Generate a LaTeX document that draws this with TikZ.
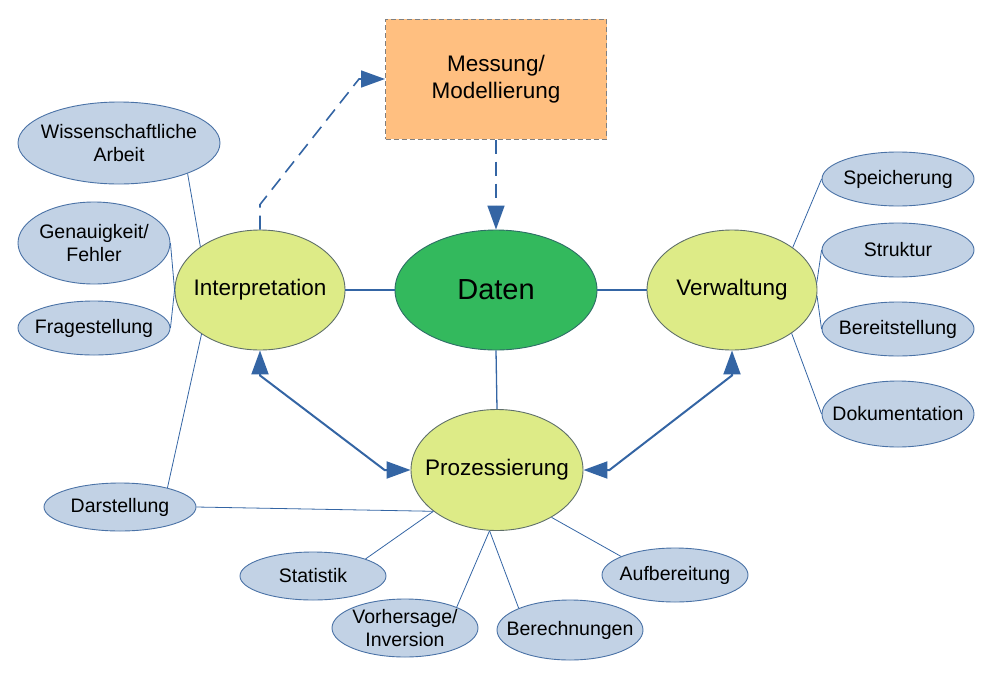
\documentclass[tikz,border=0pt]{standalone}
\usepackage{fontspec}
\setmainfont{Liberation Sans}
\usetikzlibrary{shapes.geometric,arrows.meta}
\definecolor{conn}{HTML}{3465A4}
\definecolor{leaffill}{HTML}{C2D2E5}
\definecolor{leafborder}{HTML}{4A72A6}
\definecolor{mainfill}{HTML}{DDEB87}
\definecolor{mainborder}{HTML}{5F6F6A}
\definecolor{datenfill}{HTML}{33B95D}
\definecolor{datenborder}{HTML}{2E6E66}
\definecolor{boxfill}{HTML}{FFBF80}
\definecolor{boxborder}{HTML}{808080}
\begin{document}
\begin{tikzpicture}[x=1pt,y=-1pt,
  leaf/.style={ellipse, draw=leafborder, fill=leaffill, line width=0.9pt, inner xsep=-50pt, inner ysep=-10pt, align=center, font=\fontsize{19.5}{23}\selectfont},
  mainell/.style={ellipse, draw=mainborder, fill=mainfill, line width=0.9pt, inner xsep=-50pt, inner ysep=-10pt, align=center, minimum width=170pt, minimum height=120pt, font=\fontsize{22.5}{27}\selectfont},
  datell/.style={ellipse, draw=datenborder, fill=datenfill, line width=0.9pt, inner sep=0pt, minimum width=202pt, minimum height=120pt, font=\fontsize{29}{33}\selectfont},
  boxnode/.style={rectangle, draw=boxborder, fill=boxfill, line width=1pt, dash pattern=on 5pt off 3pt, inner sep=0pt, align=center, minimum width=221pt, minimum height=120pt, font=\fontsize{22.5}{27}\selectfont},
  thinconn/.style={draw=conn, line width=0.8pt},
  midconn/.style={draw=conn, line width=1.3pt},
  thickconn/.style={draw=conn, line width=2pt},
  dashconn/.style={draw=conn, line width=1.6pt, dash pattern=on 14pt off 8pt},
  tip/.tip={Triangle[length=24pt,width=17pt]}
]
\useasboundingbox (0,0) rectangle (992,699);

% main nodes
\node[boxnode] (mess) at (496,79) {Messung/\\Modellierung};
\node[datell] (daten) at (496,290) {Daten};
\node[mainell] (interp) at (260,290) {Interpretation};
\node[mainell] (verw) at (732,290) {Verwaltung};
\node[mainell, minimum width=172pt, minimum height=121pt] (proz) at (497,470) {Prozessierung};

% leaves
\node[leaf, minimum width=202pt, minimum height=82pt] (wiss) at (119,143) {Wissenschaftliche\\Arbeit};
\node[leaf, minimum width=152pt, minimum height=82pt] (gen) at (94,243) {Genauigkeit/\\Fehler};
\node[leaf, minimum width=152pt, minimum height=54pt] (frag) at (94,328) {Fragestellung};
\node[leaf, minimum width=152pt, minimum height=48pt] (darst) at (120,507) {Darstellung};
\node[leaf, minimum width=146pt, minimum height=48pt] (stat) at (313,576) {Statistik};
\node[leaf, minimum width=146pt, minimum height=58pt] (vorh) at (405,628) {Vorhersage/\\Inversion};
\node[leaf, minimum width=146pt, minimum height=60pt] (ber) at (570,630) {Berechnungen};
\node[leaf, minimum width=146pt, minimum height=54pt] (aufb) at (675,575) {Aufbereitung};
\node[leaf, minimum width=152pt, minimum height=54pt] (speich) at (898,179) {Speicherung};
\node[leaf, minimum width=152pt, minimum height=54pt] (strukt) at (898,250) {Struktur};
\node[leaf, minimum width=152pt, minimum height=54pt] (bereit) at (898,329) {Bereitstellung};
\node[leaf, minimum width=152pt, minimum height=66pt] (doku) at (898,414) {Dokumentation};

% thin connectors
\draw[thinconn] (wiss.-24) -- (interp.144);
\draw[thinconn] (gen.east) -- (interp.west);
\draw[thinconn] (frag.east) -- (interp.west);
\draw[thinconn] (darst.22) -- (interp.217);
\draw[thinconn] (verw.35) -- (speich.west);
\draw[thinconn] (verw.5) -- (strukt.west);
\draw[thinconn] (verw.-4) -- (bereit.west);
\draw[thinconn] (verw.-36) -- (doku.west);
\draw[thinconn] (darst.east) -- (proz.213);
\draw[thinconn] (proz.213) -- (stat.18);
\draw[thinconn] (proz.263) -- (vorh.22);
\draw[thinconn] (proz.263) -- (ber.157);
\draw[thinconn] (proz.-41) -- (aufb.161);

% central connectors
\draw[midconn] (interp.east) -- (daten.west);
\draw[midconn] (daten.east) -- (verw.west);
\draw[midconn] (daten.south) -- (proz.north);

% dashed arrows
\draw[dashconn, -{tip}] (mess.south) -- (daten.north);
\draw[dashconn, -{tip}] (interp.north) -- ++(0,-25) -- ([xshift=-26pt]mess.west) -- (mess.west);

% double arrows
\draw[thickconn, {tip}-{tip}] (interp.south) -- ++(0,25) -- ([xshift=-26pt]proz.west) -- (proz.west);
\draw[thickconn, {tip}-{tip}] (verw.south) -- ++(0,25) -- ([xshift=26pt]proz.east) -- (proz.east);
\end{tikzpicture}
\end{document}
